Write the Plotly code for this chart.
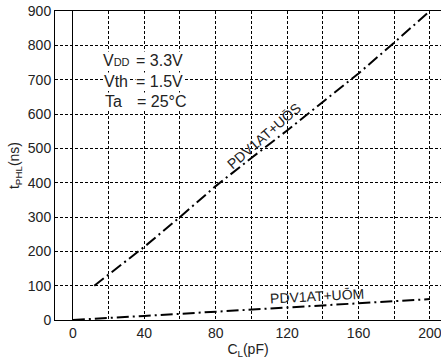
import plotly.graph_objects as go

# Upper curve: PDV1AT+UŌS
cl_os = [12, 20, 40, 60, 80, 100, 120, 140, 160, 180, 200]
t_os = [100, 132, 213, 300, 390, 472, 552, 635, 718, 808, 900]
# Lower curve: PDV1AT+UŌM
cl_om = [0, 20, 40, 60, 80, 100, 120, 140, 160, 180, 200]
t_om = [0, 5, 12, 18, 24, 30, 36, 41, 47, 54, 61]

x_tickvals = [0, 40, 80, 120, 160, 200]
x_ticktext = ["0", "40", "80", "120", "160", "200"]
y_tickvals = [0, 100, 200, 300, 400, 500, 600, 700, 800, 900]

cond_names = ["V<span style='font-size:11px'>DD</span>", "Vth", "Ta"]
cond_values = ["= 3.3V", "= 1.5V", "= 25°C"]

FONT = "Liberation Sans"
TXT = "#222"
dash = "12px,4px,2px,4px"
GRID = dict(showgrid=True, gridcolor="black", gridwidth=1, griddash="3px,2px")

fig = go.Figure()
fig.add_trace(go.Scatter(x=cl_os, y=t_os, mode="lines",
                         line=dict(color="black", width=2, dash=dash),
                         showlegend=False, hoverinfo="skip"))
fig.add_trace(go.Scatter(x=cl_om, y=t_om, mode="lines",
                         line=dict(color="black", width=2, dash=dash),
                         showlegend=False, hoverinfo="skip"))

fig.update_layout(
    width=441, height=361,
    margin=dict(l=55, r=0, t=11, b=41),
    paper_bgcolor="white", plot_bgcolor="white",
    font=dict(family=FONT, size=14, color=TXT),
    xaxis=dict(range=[-10, 206.2], tickvals=x_tickvals, ticktext=x_ticktext,
               **GRID,
               minor=dict(tick0=0, dtick=20, ticks="", **GRID),
               zeroline=True, zerolinecolor="black", zerolinewidth=1,
               showline=True, linecolor="black", linewidth=1, mirror=True,
               ticks="", ticklabeloverflow="allow",
               tickfont=dict(family=FONT, size=14, color=TXT),
               title=dict(text="C<sub>L</sub>(pF)", standoff=4,
                          font=dict(family=FONT, size=14, color=TXT))),
    yaxis=dict(range=[0, 900], tickvals=y_tickvals, **GRID,
               zeroline=False,
               showline=True, linecolor="black", linewidth=1, mirror=False,
               ticks="", tickfont=dict(family=FONT, size=14, color=TXT),
               title=dict(text="t<sub>PHL</sub>(ns)", standoff=4,
                          font=dict(family=FONT, size=14, color=TXT))),
)

fig.add_annotation(x=107, y=536, text="PDV1AT+UŌS", showarrow=False,
                   textangle=-41, font=dict(family=FONT, size=14, color=TXT))
fig.add_annotation(x=137, y=70, text="PDV1AT+UŌM", showarrow=False,
                   textangle=-3, font=dict(family=FONT, size=14, color=TXT))

ys = [757, 696, 635]
name_x = [24.4, 24.0, 22.5]
val_x = [48.4, 48.4, 49.8]
for name, val, yy, nx, vx in zip(cond_names, cond_values, ys, name_x, val_x):
    fig.add_annotation(x=nx, y=yy, text=name, showarrow=False, xanchor="center",
                       yanchor="middle", bgcolor="white", borderpad=0,
                       font=dict(family=FONT, size=16, color=TXT))
    fig.add_annotation(x=vx, y=yy, text=val, showarrow=False, xanchor="center",
                       yanchor="middle", bgcolor="white", borderpad=0,
                       font=dict(family=FONT, size=16, color=TXT))

fig.write_html("out.html")
